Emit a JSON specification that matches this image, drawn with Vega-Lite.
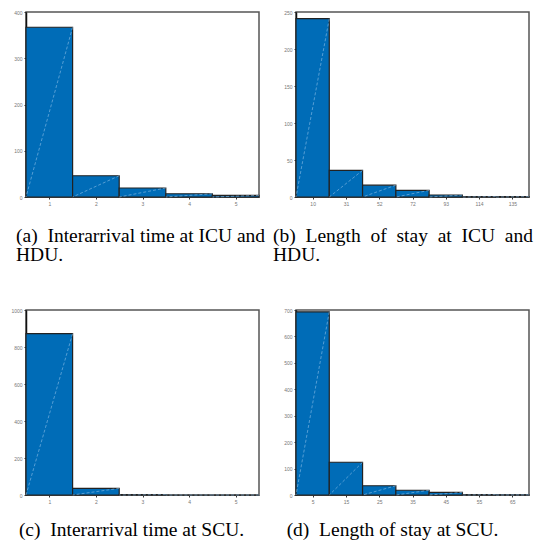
{
  "$schema": "https://vega.github.io/schema/vega-lite/v6.json",
  "padding": {"left": 10, "top": 9, "right": 5, "bottom": 5},
  "bounds": "flush",
  "columns": 2,
  "spacing": {"row": 113, "column": 37},
  "config": {
    "view": {"stroke": "#555", "strokeWidth": 1.5},
    "axis": {
      "grid": false,
      "title": null,
      "labelFont": "Liberation Sans",
      "labelFontSize": 5,
      "labelColor": "#777",
      "tickSize": 2,
      "tickColor": "#333",
      "labelPadding": 2,
      "labelOverlap": false
    },
    "axisY": {"domainColor": "#111", "domainWidth": 1.5},
    "axisX": {"domainColor": "#444", "domainWidth": 1.2},
    "title": {
      "font": "Liberation Serif",
      "fontSize": 19.5,
      "fontWeight": "normal",
      "color": "#000",
      "lineHeight": 19,
      "orient": "bottom",
      "frame": "group",
      "offset": 21
    }
  },
  "datasets": {
    "a": [
      {"i": 1, "count": 367},
      {"i": 2, "count": 46},
      {"i": 3, "count": 19.5},
      {"i": 4, "count": 7},
      {"i": 5, "count": 3.5}
    ],
    "b": [
      {"i": 1, "count": 241},
      {"i": 2, "count": 36},
      {"i": 3, "count": 16},
      {"i": 4, "count": 9},
      {"i": 5, "count": 2.7},
      {"i": 6, "count": 0.6},
      {"i": 7, "count": 0.5}
    ],
    "c": [
      {"i": 1, "count": 872},
      {"i": 2, "count": 36},
      {"i": 3, "count": 2},
      {"i": 4, "count": 0},
      {"i": 5, "count": 0}
    ],
    "d": [
      {"i": 1, "count": 693},
      {"i": 2, "count": 124},
      {"i": 3, "count": 35},
      {"i": 4, "count": 18},
      {"i": 5, "count": 10},
      {"i": 6, "count": 1.5},
      {"i": 7, "count": 0.5}
    ]
  },
  "concat": [
    {
      "width": 233, "height": 185,
      "data": {"name": "a"},
      "transform": [{"calculate": "datum.i - 0.5", "as": "lo"}, {"calculate": "datum.i + 0.5", "as": "hi"}],
      "title": {"text": ["(a)\u00a0 Interarrival time at ICU and", "HDU."], "anchor": "start", "dx": -10},
      "encoding": {
        "y": {"field": "count", "type": "quantitative", "scale": {"domain": [0, 400], "nice": false}, "axis": {"values": [0, 100, 200, 300, 400], "format": "d"}}
      },
      "layer": [
        {"mark": {"type": "rect", "fill": "#006cb7", "stroke": "#222", "strokeWidth": 1.2},
         "encoding": {
           "x": {"field": "lo", "type": "quantitative", "scale": {"domain": [0.5, 5.5], "nice": false, "zero": false}, "axis": {"values": [1, 2, 3, 4, 5], "labelOverlap": false}},
           "x2": {"field": "hi"},
           "y2": {"datum": 0}}},
        {"mark": {"type": "rule", "stroke": "#8fc0e8", "strokeWidth": 0.6, "strokeDash": [3, 2]},
         "encoding": {"x": {"field": "hi", "type": "quantitative", "axis": {"values": [1, 2, 3, 4, 5], "labelOverlap": false}}, "x2": {"field": "lo"}, "y2": {"datum": 0}}}
      ]
    },
    {
      "width": 233, "height": 185,
      "data": {"name": "b"},
      "transform": [{"calculate": "datum.i - 0.5", "as": "lo"}, {"calculate": "datum.i + 0.5", "as": "hi"}],
      "title": {"text": ["(b)\u00a0 Length\u00a0 of\u00a0 stay\u00a0 at\u00a0 ICU\u00a0 and", "HDU."], "anchor": "start", "dx": -23},
      "encoding": {
        "y": {"field": "count", "type": "quantitative", "scale": {"domain": [0, 250], "nice": false}, "axis": {"values": [0, 50, 100, 150, 200, 250], "format": "d"}}
      },
      "layer": [
        {"mark": {"type": "rect", "fill": "#006cb7", "stroke": "#222", "strokeWidth": 1.2},
         "encoding": {
           "x": {"field": "lo", "type": "quantitative", "scale": {"domain": [0.5, 7.5], "nice": false, "zero": false}, "axis": {"values": [1, 2, 3, 4, 5, 6, 7], "labelOverlap": false, "labelExpr": "['10','31','52','72','93','114','135'][datum.value - 1]"}},
           "x2": {"field": "hi"},
           "y2": {"datum": 0}}},
        {"mark": {"type": "rule", "stroke": "#8fc0e8", "strokeWidth": 0.6, "strokeDash": [3, 2]},
         "encoding": {"x": {"field": "hi", "type": "quantitative", "axis": {"values": [1, 2, 3, 4, 5, 6, 7], "labelOverlap": false, "labelExpr": "['10','31','52','72','93','114','135'][datum.value - 1]"}}, "x2": {"field": "lo"}, "y2": {"datum": 0}}}
      ]
    },
    {
      "width": 233, "height": 185,
      "data": {"name": "c"},
      "transform": [{"calculate": "datum.i - 0.5", "as": "lo"}, {"calculate": "datum.i + 0.5", "as": "hi"}],
      "title": {"text": "(c)\u00a0 Interarrival time at SCU.", "anchor": "middle", "dx": -11, "offset": 17},
      "encoding": {
        "y": {"field": "count", "type": "quantitative", "scale": {"domain": [0, 1000], "nice": false}, "axis": {"values": [0, 200, 400, 600, 800, 1000], "format": "d"}}
      },
      "layer": [
        {"mark": {"type": "rect", "fill": "#006cb7", "stroke": "#222", "strokeWidth": 1.2},
         "encoding": {
           "x": {"field": "lo", "type": "quantitative", "scale": {"domain": [0.5, 5.5], "nice": false, "zero": false}, "axis": {"values": [1, 2, 3, 4, 5], "labelOverlap": false}},
           "x2": {"field": "hi"},
           "y2": {"datum": 0}}},
        {"mark": {"type": "rule", "stroke": "#8fc0e8", "strokeWidth": 0.6, "strokeDash": [3, 2]},
         "encoding": {"x": {"field": "hi", "type": "quantitative", "axis": {"values": [1, 2, 3, 4, 5], "labelOverlap": false}}, "x2": {"field": "lo"}, "y2": {"datum": 0}}}
      ]
    },
    {
      "width": 233, "height": 185,
      "data": {"name": "d"},
      "transform": [{"calculate": "datum.i - 0.5", "as": "lo"}, {"calculate": "datum.i + 0.5", "as": "hi"}],
      "title": {"text": "(d)\u00a0 Length of stay at SCU.", "anchor": "middle", "dx": -20, "offset": 17},
      "encoding": {
        "y": {"field": "count", "type": "quantitative", "scale": {"domain": [0, 700], "nice": false}, "axis": {"values": [0, 100, 200, 300, 400, 500, 600, 700], "format": "d"}}
      },
      "layer": [
        {"mark": {"type": "rect", "fill": "#006cb7", "stroke": "#222", "strokeWidth": 1.2},
         "encoding": {
           "x": {"field": "lo", "type": "quantitative", "scale": {"domain": [0.5, 7.5], "nice": false, "zero": false}, "axis": {"values": [1, 2, 3, 4, 5, 6, 7], "labelOverlap": false, "labelExpr": "['5','15','25','35','45','55','65'][datum.value - 1]"}},
           "x2": {"field": "hi"},
           "y2": {"datum": 0}}},
        {"mark": {"type": "rule", "stroke": "#8fc0e8", "strokeWidth": 0.6, "strokeDash": [3, 2]},
         "encoding": {"x": {"field": "hi", "type": "quantitative", "axis": {"values": [1, 2, 3, 4, 5, 6, 7], "labelOverlap": false, "labelExpr": "['5','15','25','35','45','55','65'][datum.value - 1]"}}, "x2": {"field": "lo"}, "y2": {"datum": 0}}}
      ]
    }
  ]
}
